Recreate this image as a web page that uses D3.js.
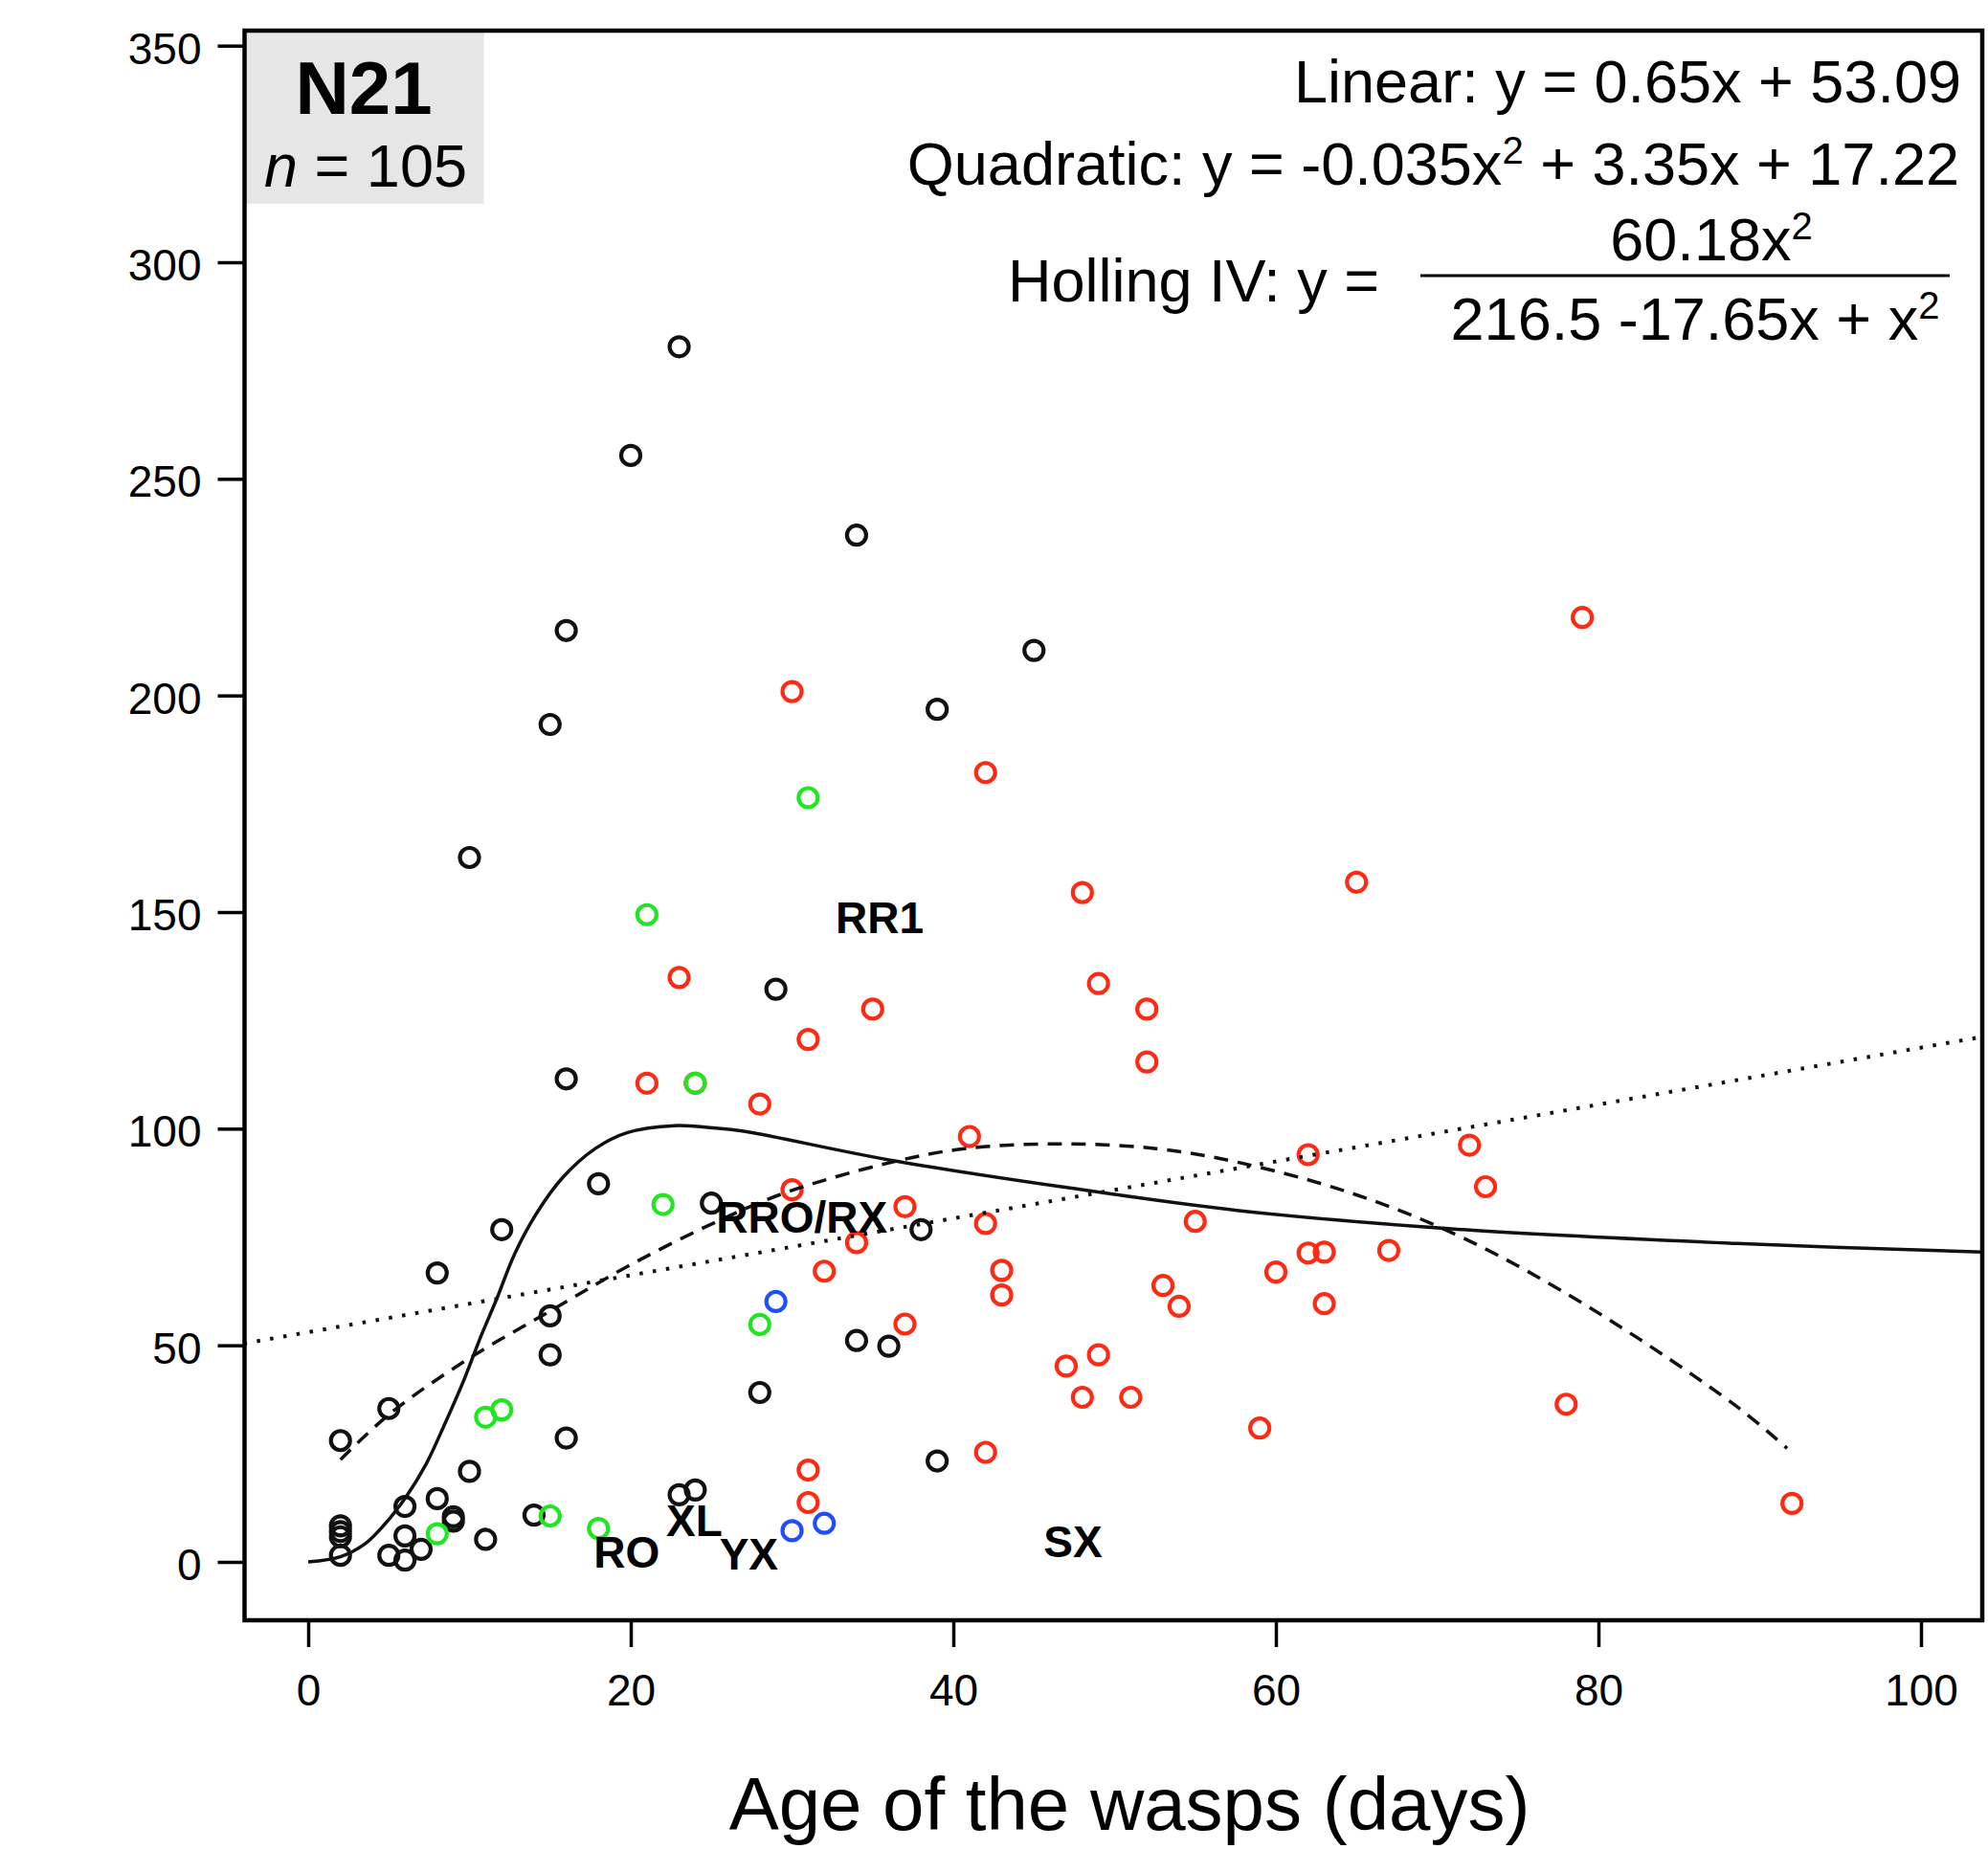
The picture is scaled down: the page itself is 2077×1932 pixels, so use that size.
<!DOCTYPE html>
<html>
<head>
<meta charset="utf-8">
<script src="https://cdnjs.cloudflare.com/ajax/libs/d3/7.8.5/d3.min.js"></script>
<style>
    body { margin:0; background:#fff; }
    text { font-family:"Liberation Sans", Arial, Helvetica, sans-serif; fill:#000; }
</style>
</head>
<body>
<svg id="chart"></svg>
<script>
// tick values
var xTicks = [0, 20, 40, 60, 80, 100];
var yTicks = [0, 50, 100, 150, 200, 250, 300, 350];

// observations [age, value], one list per colour group
var blackPts = [
    [2,28],[2,8.3],[2,7],[2,5.8],[2,1.5],[5,35.4],[5,1.5],[6,12.8],[6,6],[6,0.4],
    [7,2.9],[8,66.7],[8,14.6],[9,10.4],[9,9.4],[10,162.6],[10,20.9],[11,5.2],[12,76.7],[14,10.8],
    [15,193.3],[15,56.8],[15,47.8],[16,215],[16,111.5],[16,28.6],[18,87.3],[20,255.4],[23,280.5],[23,15.5],
    [24,16.6],[25,82.8],[28,39.1],[29,132.2],[34,237],[34,51.1],[36,49.8],[38,76.7],[39,196.8],[39,23.3],
    [45,210.4]
];
var redPts = [
    [21,110.5],[23,134.9],[24,110.5],[28,105.7],[30,200.9],[30,85.9],[31,120.6],[31,21.2],[31,13.7],[32,67.1],
    [34,73.7],[35,127.6],[37,82],[37,54.9],[41,98.2],[42,182.2],[42,78.1],[42,25.3],[43,67.3],[43,61.6],
    [47,45.2],[48,154.5],[48,38],[49,133.5],[49,47.8],[51,38],[52,127.6],[52,115.4],[53,63.8],[54,59],
    [55,78.6],[59,30.9],[60,66.9],[62,94],[62,71.3],[63,71.5],[63,59.6],[65,156.9],[67,71.9],[72,96.2],
    [73,86.6],[78,36.4],[79,218],[92,13.5]
];
var greenPts = [
    [8,6.5],[11,33.4],[12,35.1],[15,10.6],[18,7.7],[21,149.4],[22,82.5],[24,110.5],[28,54.8],[31,176.4]
];
var bluePts = [
    [29,60.1],[30,7.2],[32,8.9]
];

// fitted curves
var linearFit = [[-4,50.4],[103.8,121.2]];
var quadFit = [
    [2,23.6],[5.1,34.3],[9.9,46.8],[15,57.9],[19.8,68.2],[24.9,77.8],[29.5,85.1],[36,92.1],[40.7,95.4],
    [46.7,96.5],[52.6,95.4],[57.7,92.2],[64.7,85.1],[71.6,74.8],[79.5,58.6],[88.6,35.8],[91.7,26.2]
];
var hollingFit = [
    [0,0],[2,1.2],[3.5,4.1],[4.7,8.5],[6.1,15.2],[7.3,22.5],[8.5,32.1],[9.7,42.4],[10.7,52],[11.7,60.8],
    [12.8,71.1],[14.2,80.7],[15.8,88.8],[17.8,95.4],[19.8,99.1],[22.7,100.7],[25.1,100.2],[27,99.4],
    [36,92.8],[46.7,86.6],[57.7,81.1],[71.6,76.7],[88.6,73.5],[103.8,71.5]
];

// wasp names written in the plot (anchored in data units)
var waspLabels = [
    {name:'RR1', x:32.7, y:145.1},
    {name:'RRO/RX', x:25.3, y:76},
    {name:'RO', x:17.7, y:-1.3},
    {name:'XL', x:22.2, y:6},
    {name:'YX', x:25.5, y:-1.8},
    {name:'SX', x:45.6, y:1.1}
];

var conf = {
    width:2077,
    height:1932,
    // plot frame
    frameLeft:255.5,
    frameTop:32,
    frameRight:2071,
    frameBottom:1693,
    tickSize:28,
    markerRadius:10
};

var svg = d3.select('#chart')
    .attr('width', conf.width)
    .attr('height', conf.height);

var x = d3.scaleLinear().domain([0, 100]).range([322, 2007]);
var y = d3.scaleLinear().domain([0, 350]).range([1632, 47.7]);

svg.append('defs').append('clipPath')
    .attr('id', 'plotclip')
    .append('rect')
    .attr('x', conf.frameLeft)
    .attr('y', conf.frameTop)
    .attr('width', conf.frameRight - conf.frameLeft)
    .attr('height', conf.frameBottom - conf.frameTop);

// grey sample box
svg.append('rect')
    .attr('x', conf.frameLeft)
    .attr('y', conf.frameTop)
    .attr('width', 250)
    .attr('height', 181)
    .attr('fill', '#e6e6e6');

svg.append('text')
    .attr('x', 380)
    .attr('y', 119)
    .attr('text-anchor', 'middle')
    .style('font-size', '78px')
    .style('font-weight', 'bold')
    .text('N21');

var nText = svg.append('text')
    .attr('x', 382)
    .attr('y', 195)
    .attr('text-anchor', 'middle')
    .style('font-size', '63px');
nText.append('tspan').style('font-style', 'italic').text('n');
nText.append('tspan').text(' = 105');

// axes
var yAxis = d3.axisLeft(y).tickValues(yTicks).tickSize(conf.tickSize).tickPadding(17);
var gy = svg.append('g')
    .attr('transform', 'translate(' + conf.frameLeft + ',0)')
    .call(yAxis);

var xAxis = d3.axisBottom(x).tickValues(xTicks).tickSize(conf.tickSize).tickPadding(28);
var gx = svg.append('g')
    .attr('transform', 'translate(0,' + conf.frameBottom + ')')
    .call(xAxis);

[gx, gy].forEach(function(g){
    g.select('.domain').remove();
    g.selectAll('.tick line').attr('stroke', '#000').attr('stroke-width', 3.5);
    g.selectAll('.tick text')
        .attr('fill', '#000')
        .style('font-family', '"Liberation Sans", Arial, sans-serif')
        .style('font-size', '46px');
});
gy.selectAll('.tick text').attr('dy', '0.4em');

svg.append('text')
    .attr('x', 1180)
    .attr('y', 1912)
    .attr('text-anchor', 'middle')
    .style('font-size', '78px')
    .text('Age of the wasps (days)');

// points
var plot = svg.append('g').attr('clip-path', 'url(#plotclip)');

var drawGroup = function(pts, colour){
    plot.append('g').selectAll('circle')
        .data(pts)
        .enter().append('circle')
        .attr('cx', function(d){ return x(d[0]); })
        .attr('cy', function(d){ return y(d[1]); })
        .attr('r', conf.markerRadius)
        .attr('fill', 'none')
        .attr('stroke', colour)
        .attr('stroke-width', 4.2);
};
drawGroup(blackPts, '#111');
drawGroup(redPts, '#ff2a14');
drawGroup(greenPts, '#1fe61f');
drawGroup(bluePts, '#1f4dff');

// fitted curves
var line = d3.line()
    .x(function(d){ return x(d[0]); })
    .y(function(d){ return y(d[1]); });
var smooth = d3.line()
    .x(function(d){ return x(d[0]); })
    .y(function(d){ return y(d[1]); })
    .curve(d3.curveCatmullRom.alpha(0.5));

plot.append('path')
    .attr('d', line(linearFit))
    .attr('fill', 'none')
    .attr('stroke', '#111')
    .attr('stroke-width', 4)
    .attr('stroke-dasharray', '3.5,10.5');

plot.append('path')
    .attr('d', smooth(quadFit))
    .attr('fill', 'none')
    .attr('stroke', '#111')
    .attr('stroke-width', 3.5)
    .attr('stroke-dasharray', '15,10');

plot.append('path')
    .attr('d', smooth(hollingFit))
    .attr('fill', 'none')
    .attr('stroke', '#111')
    .attr('stroke-width', 3.5);

// names
svg.append('g').selectAll('text')
    .data(waspLabels)
    .enter().append('text')
    .attr('x', function(d){ return x(d.x); })
    .attr('y', function(d){ return y(d.y); })
    .style('font-size', '46px')
    .style('font-weight', 'bold')
    .text(function(d){ return d.name; });

// frame
svg.append('rect')
    .attr('x', conf.frameLeft)
    .attr('y', conf.frameTop)
    .attr('width', conf.frameRight - conf.frameLeft)
    .attr('height', conf.frameBottom - conf.frameTop)
    .attr('fill', 'none')
    .attr('stroke', '#000')
    .attr('stroke-width', 4.5);

// equations
var sup = function(t, s){
    t.append('tspan').attr('dy', -22).style('font-size', '40px').text(s);
    return t;
};

svg.append('text')
    .attr('x', 2049)
    .attr('y', 107)
    .attr('text-anchor', 'end')
    .style('font-size', '63px')
    .text('Linear: y = 0.65x + 53.09');

var quad = svg.append('text')
    .attr('x', 2047)
    .attr('y', 193)
    .attr('text-anchor', 'end')
    .style('font-size', '63px');
quad.append('tspan').text('Quadratic: y = -0.035x');
sup(quad, '2');
quad.append('tspan').attr('dy', 22).text(' + 3.35x + 17.22');

svg.append('text')
    .attr('x', 1441)
    .attr('y', 315)
    .attr('text-anchor', 'end')
    .style('font-size', '63px')
    .text('Holling IV: y =');

var num = svg.append('text')
    .attr('x', 1788)
    .attr('y', 272)
    .attr('text-anchor', 'middle')
    .style('font-size', '63px');
num.append('tspan').text('60.18x');
sup(num, '2');

svg.append('line')
    .attr('x1', 1484)
    .attr('x2', 2037)
    .attr('y1', 288)
    .attr('y2', 288)
    .attr('stroke', '#000')
    .attr('stroke-width', 3);

var den = svg.append('text')
    .attr('x', 1771)
    .attr('y', 355)
    .attr('text-anchor', 'middle')
    .style('font-size', '63px');
den.append('tspan').text('216.5 -17.65x + x');
sup(den, '2');
</script>
</body>
</html>
